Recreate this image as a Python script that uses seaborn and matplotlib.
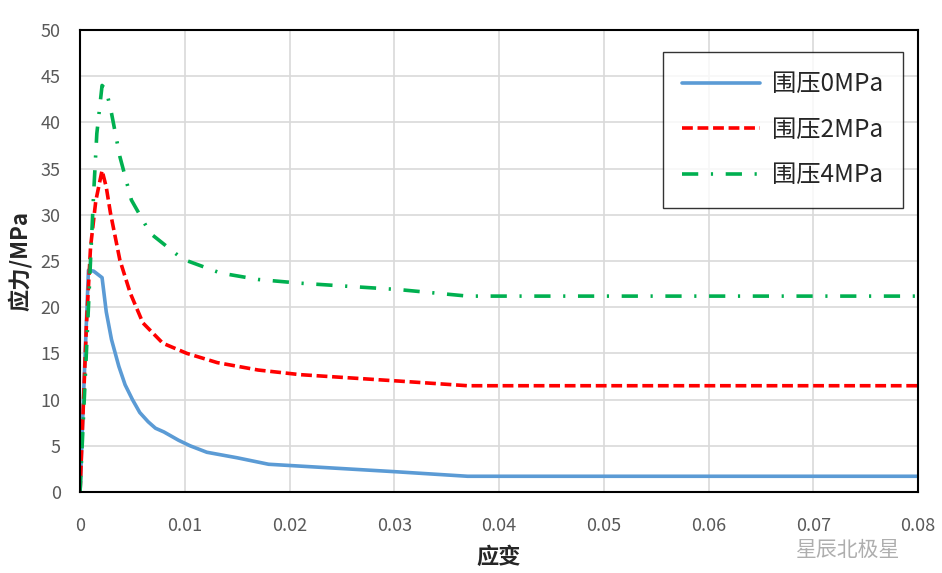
import matplotlib
matplotlib.use("Agg")
import matplotlib.pyplot as plt
import seaborn as sns
import pandas as pd

# Data
strain_0 = [0, 0.0004, 0.0008, 0.0013, 0.0021, 0.0025, 0.003, 0.0037, 0.0043, 0.005, 0.0057, 0.0065, 0.0072, 0.008, 0.0094, 0.0105, 0.0121, 0.015, 0.018, 0.024, 0.030, 0.037, 0.05, 0.065, 0.08]
stress_0 = [0, 12.5, 24.0, 23.9, 23.2, 19.5, 16.5, 13.6, 11.6, 10.0, 8.6, 7.6, 6.9, 6.5, 5.6, 5.0, 4.3, 3.7, 3.0, 2.6, 2.2, 1.7, 1.7, 1.7, 1.7]

strain_2 = [0, 0.0003, 0.0006, 0.001, 0.0015, 0.0021, 0.0025, 0.0029, 0.0038, 0.0048, 0.006, 0.0079, 0.0102, 0.0131, 0.017, 0.021, 0.0305, 0.037, 0.05, 0.065, 0.08]
stress_2 = [0, 9.0, 17.9, 26.5, 31.5, 34.8, 33.0, 30.2, 25.1, 21.5, 18.3, 16.1, 15.0, 14.0, 13.2, 12.7, 12.0, 11.5, 11.5, 11.5, 11.5]

strain_4 = [0, 0.0004, 0.0007, 0.001, 0.0013, 0.0016, 0.0021, 0.0025, 0.003, 0.0038, 0.0049, 0.0067, 0.0098, 0.0134, 0.017, 0.021, 0.0305, 0.037, 0.05, 0.065, 0.08]
stress_4 = [0, 10.0, 17.5, 25.1, 32.4, 38.8, 44.0, 43.5, 41.0, 36.3, 31.6, 28.0, 25.2, 23.7, 23.0, 22.6, 21.9, 21.2, 21.2, 21.2, 21.2]

series_labels = ["围压0MPa", "围压2MPa", "围压4MPa"]
x_ticks = [0, 0.01, 0.02, 0.03, 0.04, 0.05, 0.06, 0.07, 0.08]
x_tick_labels = ["0", "0.01", "0.02", "0.03", "0.04", "0.05", "0.06", "0.07", "0.08"]
y_ticks = [0, 5, 10, 15, 20, 25, 30, 35, 40, 45, 50]

sns.set_theme(style="white")
plt.rcParams["font.family"] = ["Noto Sans CJK SC", "DejaVu Sans"]

fig = plt.figure(figsize=(9.42, 5.73), dpi=100)
ax = fig.add_axes([0.085, 0.1414, 0.8895, 0.8062])

colors = ["#5B9BD5", "#FF0000", "#00B050"]
styles = ["-", (0, (3.0, 1.3)), (0, (4.5, 3.5, 0.6, 3.5))]
data = [(strain_0, stress_0), (strain_2, stress_2), (strain_4, stress_4)]
for (xs, ys), lab, c, ls in zip(data, series_labels, colors, styles):
    df = pd.DataFrame({"x": xs, "y": ys})
    sns.lineplot(data=df, x="x", y="y", ax=ax, color=c, linewidth=2.6,
                 linestyle=ls, label=lab, sort=False, estimator=None)

ax.set_xlim(0, 0.08)
ax.set_ylim(0, 50)
ax.set_xticks(x_ticks)
ax.set_xticklabels(x_tick_labels)
ax.set_yticks(y_ticks)
ax.grid(True, color="#D9D9D9", linewidth=1.2)
ax.set_axisbelow(True)
for s in ax.spines.values():
    s.set_visible(True)
    s.set_color("black")
    s.set_linewidth(1.5)
ax.tick_params(axis="both", length=0, labelsize=13, labelcolor="#595959")
ax.tick_params(axis="y", pad=14)
ax.tick_params(axis="x", pad=18)

ax.set_xlabel("应变", fontsize=16, fontweight="bold", labelpad=8)
ax.set_ylabel("应力/MPa", fontsize=16, fontweight="bold", labelpad=6)

leg = ax.legend(loc="upper right", bbox_to_anchor=(0.982, 0.953), fontsize=17.5,
                frameon=True, fancybox=False, handlelength=3.2, labelspacing=0.8,
                borderpad=0.8, handletextpad=0.5, borderaxespad=0)
leg.get_frame().set_edgecolor("black")
leg.get_frame().set_linewidth(1.0)

fig.text(0.845, 0.040, "星辰北极星", fontsize=15, color="#9a9a9a", alpha=0.8,
         ha="left", va="center")

fig.savefig("out.png", dpi=100)
